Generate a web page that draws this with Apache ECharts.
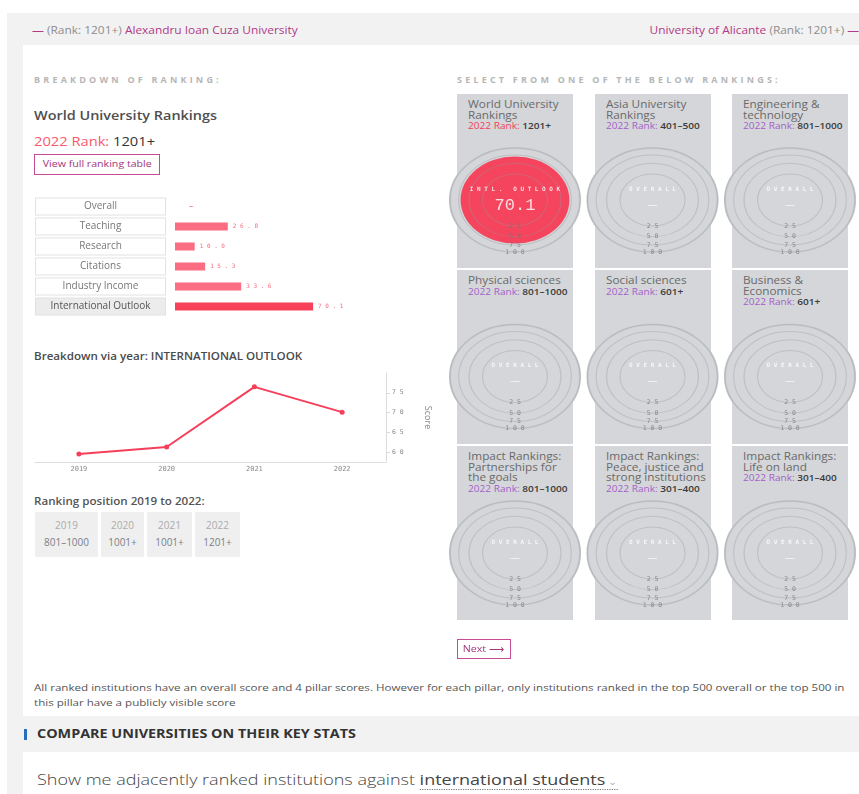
<!DOCTYPE html>
<html>
<head>
<meta charset="utf-8">
<script src="https://cdn.jsdelivr.net/npm/echarts@6/dist/echarts.min.js"></script>
<style>
html, body { margin: 0; padding: 0; background: #fff; width: 859px; height: 794px; overflow: hidden; font-family: "Open Sans", sans-serif; }
.abs { position: absolute; white-space: nowrap; transform-origin: 0 50%; }
#bg { position: absolute; left: 7px; top: 13px; right: 0; bottom: 0; background: #f2f2f2; }
#panel { position: absolute; left: 23px; top: 45px; width: 836px; height: 671px; background: #fff; }
#panel2 { position: absolute; left: 23px; top: 752px; width: 836px; height: 42px; background: #fff; }
.link { font-size: 10px; line-height: 14px; top: 23px; transform: scaleX(1.19); }
.mag { color: #b03a87; }
.grey { color: #8d8d8d; }
.head { font-size: 9px; font-weight: 700; letter-spacing: 3.2px; color: #b6b6b6; top: 74px; line-height: 12px; }
.card { position: absolute; width: 116px; height: 174px; background: #d4d6d9; }
.card .t { position: absolute; left: 11px; top: 5px; font-size: 10.5px; line-height: 10.5px; color: #6a6a6a; white-space: pre; transform: scaleX(1.12); transform-origin: 0 0; }
.card .r { font-size: 9px; line-height: 10.5px; }
.card .r b { font-weight: 600; color: #3a3a3a; }
.pos { position: absolute; top: 512px; height: 45px; background: #efefef; text-align: center; font-size: 10px; }
.pos .y { position: absolute; left: 0; right: 0; top: 6px; color: #ababab; line-height: 14px; }
.pos .v { position: absolute; left: 0; right: 0; top: 23px; color: #7a7f88; line-height: 14px; }
.btn { box-sizing: border-box; border: 1.5px solid #c54b97; text-align: center; font-size: 9px; color: #a3357b; }
.btn span { display: inline-block; transform: scaleX(1.18); }
</style>
</head>
<body>
<div id="bg"></div>
<div id="panel"></div>
<div id="panel2"></div>

<div class="abs link" style="left:32px;"><span class="mag">—</span> <span class="grey">(Rank: 1201+)</span> <span class="mag">Alexandru Ioan Cuza University</span></div>
<div class="abs link" style="right:0px;transform-origin:100% 50%;"><span class="mag">University of Alicante</span> <span class="grey">(Rank: 1201+)</span> <span class="mag">—</span></div>

<div class="abs head" style="left:34px;">BREAKDOWN OF RANKING:</div>
<div class="abs head" style="left:457px;">SELECT FROM ONE OF THE BELOW RANKINGS:</div>

<div class="abs" style="left:34px;top:106px;font-size:13px;line-height:18px;font-weight:600;color:#4e4e4e;transform:scaleX(1.11);">World University Rankings</div>
<div class="abs" style="left:34px;top:132px;font-size:13px;line-height:18px;color:#333;transform:scaleX(1.13);"><span style="color:#f9596d;">2022 Rank:</span> 1201+</div>
<div class="abs btn" style="left:34px;top:154px;width:126px;height:21px;line-height:18px;"><span>View full ranking table</span></div>
<div class="abs" style="left:189px;top:199px;font-size:9px;line-height:14px;color:#f56b7e;">–</div>

<div id="bars" class="abs" style="left:20px;top:190px;width:360px;height:130px;"></div>

<div class="abs" style="left:34px;top:349px;font-size:10px;line-height:14px;font-weight:600;color:#4a4a4a;transform:scaleX(1.16);">Breakdown via year: INTERNATIONAL OUTLOOK</div>
<div id="trend" class="abs" style="left:20px;top:365px;width:420px;height:115px;"></div>

<div class="abs" style="left:34px;top:494px;font-size:10px;line-height:14px;font-weight:600;color:#555;transform:scaleX(1.16);">Ranking position 2019 to 2022:</div>
<div id="positions"></div>

<div id="cards"></div>
<div id="rings" class="abs" style="left:440px;top:90px;width:419px;height:560px;"></div>

<div class="abs btn" style="left:457px;top:639px;width:54px;height:20px;line-height:17px;"><span>Next ⟶</span></div>

<div class="abs" style="left:34px;top:680px;font-size:9.5px;line-height:15px;color:#555;transform:scaleX(1.22);">All ranked institutions have an overall score and 4 pillar scores. However for each pillar, only institutions ranked in the top 500 overall or the top 500 in<br>this pillar have a publicly visible score</div>

<div class="abs" style="left:24px;top:729px;width:2.5px;height:11px;background:#2a6ebb;"></div>
<div class="abs" style="left:37px;top:726px;font-size:11.5px;line-height:16px;font-weight:700;color:#333;transform:scaleX(1.25);">COMPARE UNIVERSITIES ON THEIR KEY STATS</div>
<div class="abs" style="left:37px;top:768px;font-size:15px;line-height:22px;color:#444;font-weight:300;transform:scaleX(1.2);">Show me adjacently ranked institutions against <span style="border-bottom:1px dotted #777;font-weight:400;">international students<span style="font-size:9px;color:#aaa;"> ⌄</span></span></div>

<script>
// pillar scores (2022)
const pillarNames = ['Overall', 'Teaching', 'Research', 'Citations', 'Industry Income', 'International Outlook'];
const pillarScores = [null, 26.8, 10.0, 15.3, 33.6, 70.1];
const selectedPillar = 5;

// international outlook by year
const trendYears = ['2019', '2020', '2021', '2022'];
const trendScores = [59.5, 61.3, 76.5, 70.1];

// ranking position by year
const positionYears = ['2019', '2020', '2021', '2022'];
const positionRanks = ['801–1000', '1001+', '1001+', '1201+'];

// ranking cards
const rankingTitles = [
    'World University\nRankings', 'Asia University\nRankings', 'Engineering &\ntechnology',
    'Physical sciences', 'Social sciences', 'Business &\nEconomics',
    'Impact Rankings:\nPartnerships for\nthe goals', 'Impact Rankings:\nPeace, justice and\nstrong institutions', 'Impact Rankings:\nLife on land'
];
const rankingRanks = ['1201+', '401–500', '801–1000', '801–1000', '601+', '601+', '801–1000', '301–400', '301–400'];
const rankingScores = [70.1, null, null, null, null, null, null, null, null];
const ringLevels = [25, 50, 75, 100];

const spaced = s => String(s).split('').join(' ');

// ranking position boxes
const posLeft = [35, 101, 147, 195];
const posWidth = [63, 43, 45, 45];
document.getElementById('positions').innerHTML = positionYears.map((y, i) =>
    `<div class="pos" style="left:${posLeft[i]}px;width:${posWidth[i]}px;"><div class="y">${y}</div><div class="v">${positionRanks[i]}</div></div>`
).join('');

// cards
const cardLeft = [457, 595, 732];
const cardTop = [94, 270, 446];
document.getElementById('cards').innerHTML = rankingTitles.map((t, i) => {
    const col = i % 3, row = Math.floor(i / 3);
    const rc = i === 0 ? '#f5405a' : '#a45fcb';
    return `<div class="card" style="left:${cardLeft[col]}px;top:${cardTop[row]}px;"><div class="t">${t}\n<span class="r"><span style="color:${rc}">2022 Rank:</span> <b>${rankingRanks[i]}</b></span></div></div>`;
}).join('');

// pillar bars
const barChart = echarts.init(document.getElementById('bars'));
barChart.setOption({
    animation: false,
    grid: { left: 155, right: 8, top: 6.5, bottom: 3.5 },
    xAxis: { type: 'value', min: 0, max: 100, show: false },
    yAxis: {
        type: 'category', data: pillarNames, inverse: true,
        axisLine: { show: false }, axisTick: { show: false },
        axisLabel: {
            margin: 10,
            formatter: (v, i) => (i === selectedPillar ? '{hl|' : '{box|') + v + '}',
            rich: {
                box: { width: 129, height: 16, align: 'center', backgroundColor: '#fff', borderColor: '#e2e2e2', borderWidth: 1, color: '#777', fontSize: 10, fontFamily: 'Open Sans' },
                hl: { width: 129, height: 16, align: 'center', backgroundColor: '#ececec', borderColor: '#e2e2e2', borderWidth: 1, color: '#555', fontSize: 10, fontFamily: 'Open Sans' }
            }
        }
    },
    series: [{
        type: 'bar', barWidth: 8,
        data: pillarScores.map((v, i) => ({
            value: v === null ? '-' : v,
            itemStyle: { color: i === selectedPillar ? '#f7405a' : '#fa6d82' }
        })),
        label: {
            show: true, position: 'right', distance: 5,
            formatter: p => spaced(p.value.toFixed(1)),
            fontFamily: 'DejaVu Sans Mono', fontSize: 6, color: '#f56b7e'
        }
    }]
});

// international outlook trend
const trendChart = echarts.init(document.getElementById('trend'));
trendChart.setOption({
    animation: false,
    grid: { left: 15, right: 53, top: 8, bottom: 18 },
    xAxis: {
        type: 'category', data: trendYears, boundaryGap: true,
        axisLine: { lineStyle: { color: '#dcdcdc' } }, axisTick: { show: false },
        axisLabel: { margin: 4, fontFamily: 'DejaVu Sans Mono', fontSize: 7, color: '#8a8a8a' }
    },
    yAxis: {
        type: 'value', position: 'right', min: 57.5, max: 80, scale: true,
        name: 'Score', nameLocation: 'middle', nameGap: 37, nameRotate: -90,
        nameTextStyle: { fontSize: 9, color: '#8a8a8a', fontFamily: 'Open Sans' },
        axisLine: { show: true, lineStyle: { color: '#dcdcdc' } },
        axisTick: { show: true, length: 4, lineStyle: { color: '#dcdcdc' } },
        splitLine: { show: false },
        axisLabel: { showMinLabel: false, showMaxLabel: false, margin: 6, formatter: v => spaced(v), fontFamily: 'DejaVu Sans Mono', fontSize: 6.5, color: '#8a8a8a' }
    },
    series: [{
        type: 'line', data: trendScores,
        symbol: 'circle', symbolSize: 5,
        lineStyle: { color: '#f63f5a', width: 2 },
        itemStyle: { color: '#f63f5a' }
    }]
});

// score rings (area-proportional ellipses)
const RING_R = 65, RING_Y = 0.8;
const ellipseSize = v => {
    const r = RING_R * Math.sqrt(v / 100);
    return [2 * r, 2 * r * RING_Y];
};
const cardPoints = rankingTitles.map((t, i) => [i % 3, Math.floor(i / 3)]);
const ringData = [];
cardPoints.forEach(p => ringLevels.forEach(l => ringData.push([p[0], p[1], l])));

const ringChart = echarts.init(document.getElementById('rings'));
ringChart.setOption({
    animation: false,
    grid: { left: 6.25, right: 0.25, top: 21.75, bottom: 8.75 },
    xAxis: { type: 'category', data: ['0', '1', '2'], show: false },
    yAxis: { type: 'category', data: ['0', '1', '2'], inverse: true, show: false },
    series: [
        {
            // outer fill
            type: 'scatter', z: 1, silent: true,
            data: cardPoints.map(p => [p[0], p[1], 100]),
            symbol: 'circle', symbolSize: v => ellipseSize(v[2]),
            itemStyle: { color: '#d4d6d9', borderColor: '#c9cbce', borderWidth: 2, opacity: 1 }
        },
        {
            // score
            type: 'scatter', z: 2, silent: true,
            data: cardPoints.map((p, i) => [p[0], p[1], rankingScores[i] === null ? '-' : rankingScores[i]]),
            symbol: 'circle', symbolSize: v => ellipseSize(v[2]),
            itemStyle: { color: '#f5455e', opacity: 1 }
        },
        {
            // ring outlines + level labels
            type: 'scatter', z: 3, silent: true,
            data: ringData,
            symbol: 'circle', symbolSize: v => ellipseSize(v[2]),
            itemStyle: { color: 'rgba(0,0,0,0)', borderColor: 'rgba(150,152,156,0.35)', borderWidth: 1, opacity: 1 },
            label: {
                show: true, position: 'insideBottom', distance: 0, offset: [0, 3],
                formatter: p => spaced(p.value[2]),
                fontFamily: 'DejaVu Sans Mono', fontSize: 6.5, color: 'rgba(110,112,118,0.75)'
            }
        },
        {
            // centre labels
            type: 'scatter', z: 4, silent: true,
            data: cardPoints.map((p, i) => [p[0], p[1], rankingScores[i] === null ? 0 : rankingScores[i]]),
            symbolSize: 1, itemStyle: { color: 'rgba(0,0,0,0)' },
            label: {
                show: true, position: 'inside', offset: [0, -3],
                formatter: p => rankingScores[p.dataIndex] === null
                    ? '{t|' + spaced('OVERALL') + '}\n{d|—}'
                    : '{t|' + spaced('INTL. OUTLOOK') + '}\n{v|' + rankingScores[p.dataIndex].toFixed(1) + '}',
                rich: {
                    t: { fontFamily: 'DejaVu Sans Mono', fontWeight: 'bold', fontSize: 6, color: '#fff', lineHeight: 16 },
                    d: { fontFamily: 'DejaVu Sans', fontSize: 10, color: '#fff', lineHeight: 16 },
                    v: { fontFamily: 'Liberation Mono', fontSize: 17, color: '#fff', lineHeight: 16 }
                }
            }
        }
    ]
});
</script>
</body>
</html>
